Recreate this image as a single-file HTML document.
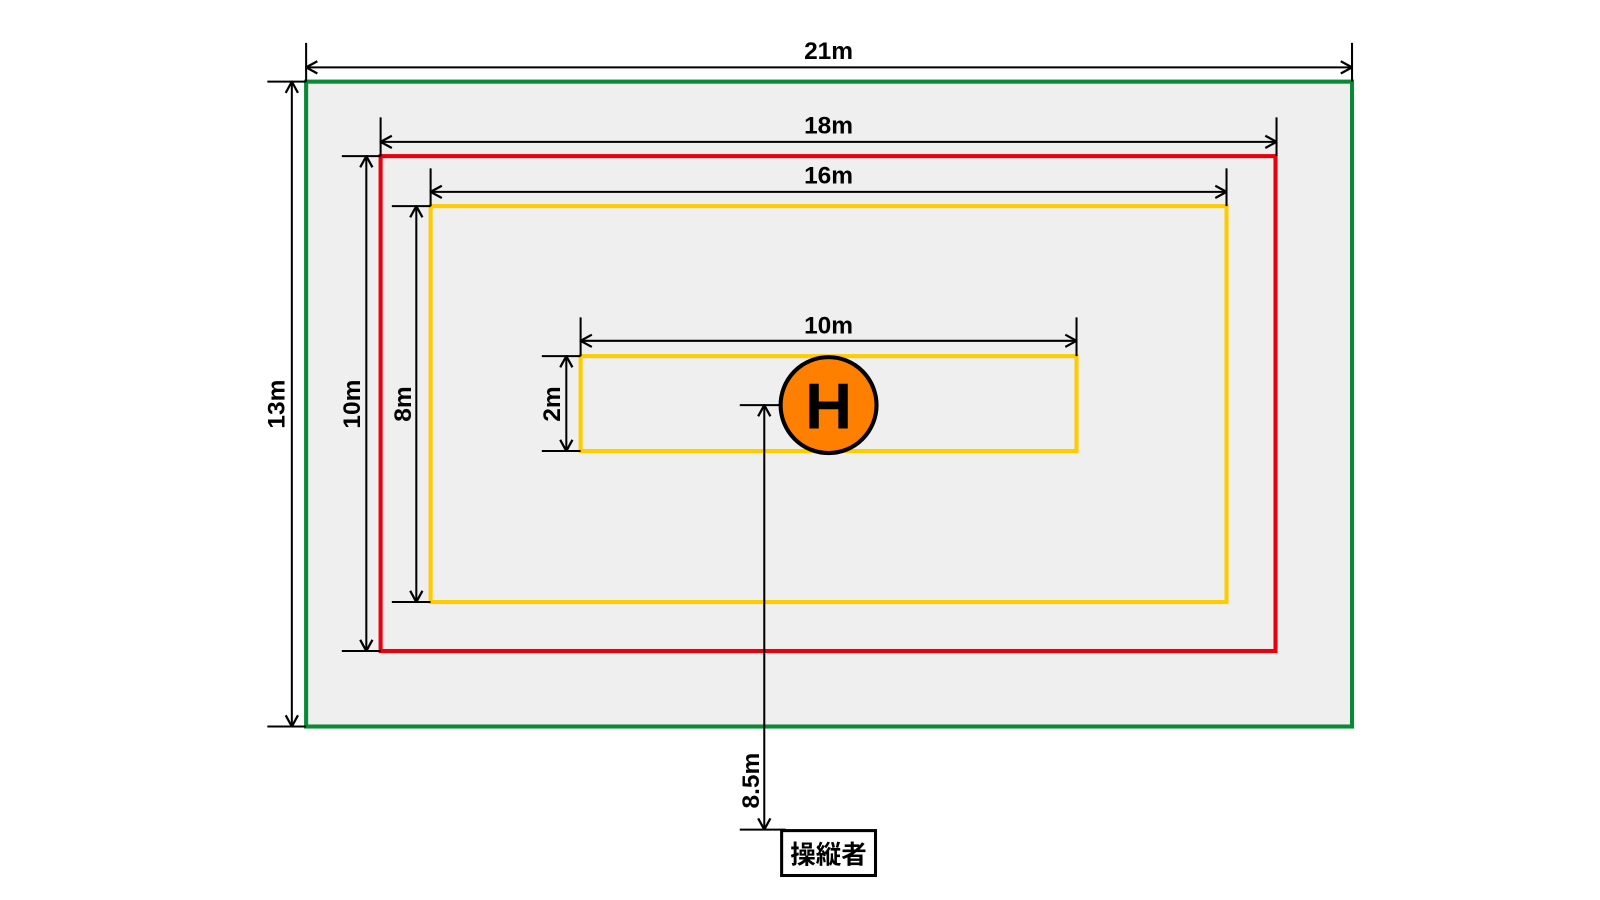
<!DOCTYPE html>
<html><head><meta charset="utf-8"><style>body{margin:0;background:#fff}svg{display:block}</style></head><body>
<svg width="1600" height="900" viewBox="0 0 1600 900" xmlns="http://www.w3.org/2000/svg">
<defs>
<marker id="a" viewBox="0 0 14 14" refX="13" refY="7" markerWidth="14" markerHeight="14" markerUnits="userSpaceOnUse" orient="auto-start-reverse">
<path d="M2,1 L13,7 L2,13" fill="none" stroke="#000" stroke-width="2.2"/></marker>
</defs>
<g transform="scale(1.0204)">
<rect x="300" y="80" width="1025" height="632" fill="#efefef" stroke="#0a8a34" stroke-width="4"/>
<rect x="373" y="153" width="877" height="485" fill="none" stroke="#e8000b" stroke-width="4"/>
<rect x="422" y="202" width="780" height="388" fill="none" stroke="#ffcc00" stroke-width="4"/>
<rect x="569" y="349" width="486" height="93" fill="none" stroke="#ffcc00" stroke-width="4"/>
<g stroke="#000" stroke-width="2" fill="none">
<path d="M300 42V80M1325 42V80M373 115V153M1251 115V153M422 165V202M1202 165V202M569 311V349M1055 311V349"/>
<path d="M262 80H300M262 712H300M335 153H373M335 638H373M384 202H422M384 590H422M531 349H569M531 442H569M725 397H770M725 813H770"/>
<line x1="300" y1="66" x2="1325" y2="66" marker-start="url(#a)" marker-end="url(#a)"/>
<line x1="373" y1="139" x2="1251" y2="139" marker-start="url(#a)" marker-end="url(#a)"/>
<line x1="422" y1="188" x2="1202" y2="188" marker-start="url(#a)" marker-end="url(#a)"/>
<line x1="569" y1="334" x2="1055" y2="334" marker-start="url(#a)" marker-end="url(#a)"/>
<line x1="286" y1="80" x2="286" y2="712" marker-start="url(#a)" marker-end="url(#a)"/>
<line x1="359" y1="153" x2="359" y2="638" marker-start="url(#a)" marker-end="url(#a)"/>
<line x1="408" y1="202" x2="408" y2="590" marker-start="url(#a)" marker-end="url(#a)"/>
<line x1="555" y1="349" x2="555" y2="442" marker-start="url(#a)" marker-end="url(#a)"/>
<line x1="749" y1="397" x2="749" y2="813" marker-start="url(#a)" marker-end="url(#a)"/>
</g>
<circle cx="812" cy="397" r="47" fill="#ff7f00" stroke="#000" stroke-width="4"/>
<text x="812" y="420" font-family="Liberation Sans, sans-serif" font-weight="bold" font-size="64" text-anchor="middle">H</text>
<g font-family="Liberation Sans, sans-serif" font-weight="bold" font-size="24" text-anchor="middle">
<text x="812" y="58">21m</text>
<text x="812" y="131">18m</text>
<text x="812" y="180">16m</text>
<text x="812" y="327">10m</text>
<text transform="translate(279,396) rotate(-90)">13m</text>
<text transform="translate(353,396) rotate(-90)">10m</text>
<text transform="translate(403,396) rotate(-90)">8m</text>
<text transform="translate(549,396) rotate(-90)">2m</text>
<text transform="translate(744,765) rotate(-90)">8.5m</text>
</g>
<rect x="766" y="814" width="92" height="44" fill="#fff" stroke="#000" stroke-width="3"/>
<text x="812" y="846" font-family="Liberation Sans, 'Noto Sans CJK JP', sans-serif" font-weight="bold" font-size="25" text-anchor="middle">操縦者</text>
</g>
</svg>
</body></html>
